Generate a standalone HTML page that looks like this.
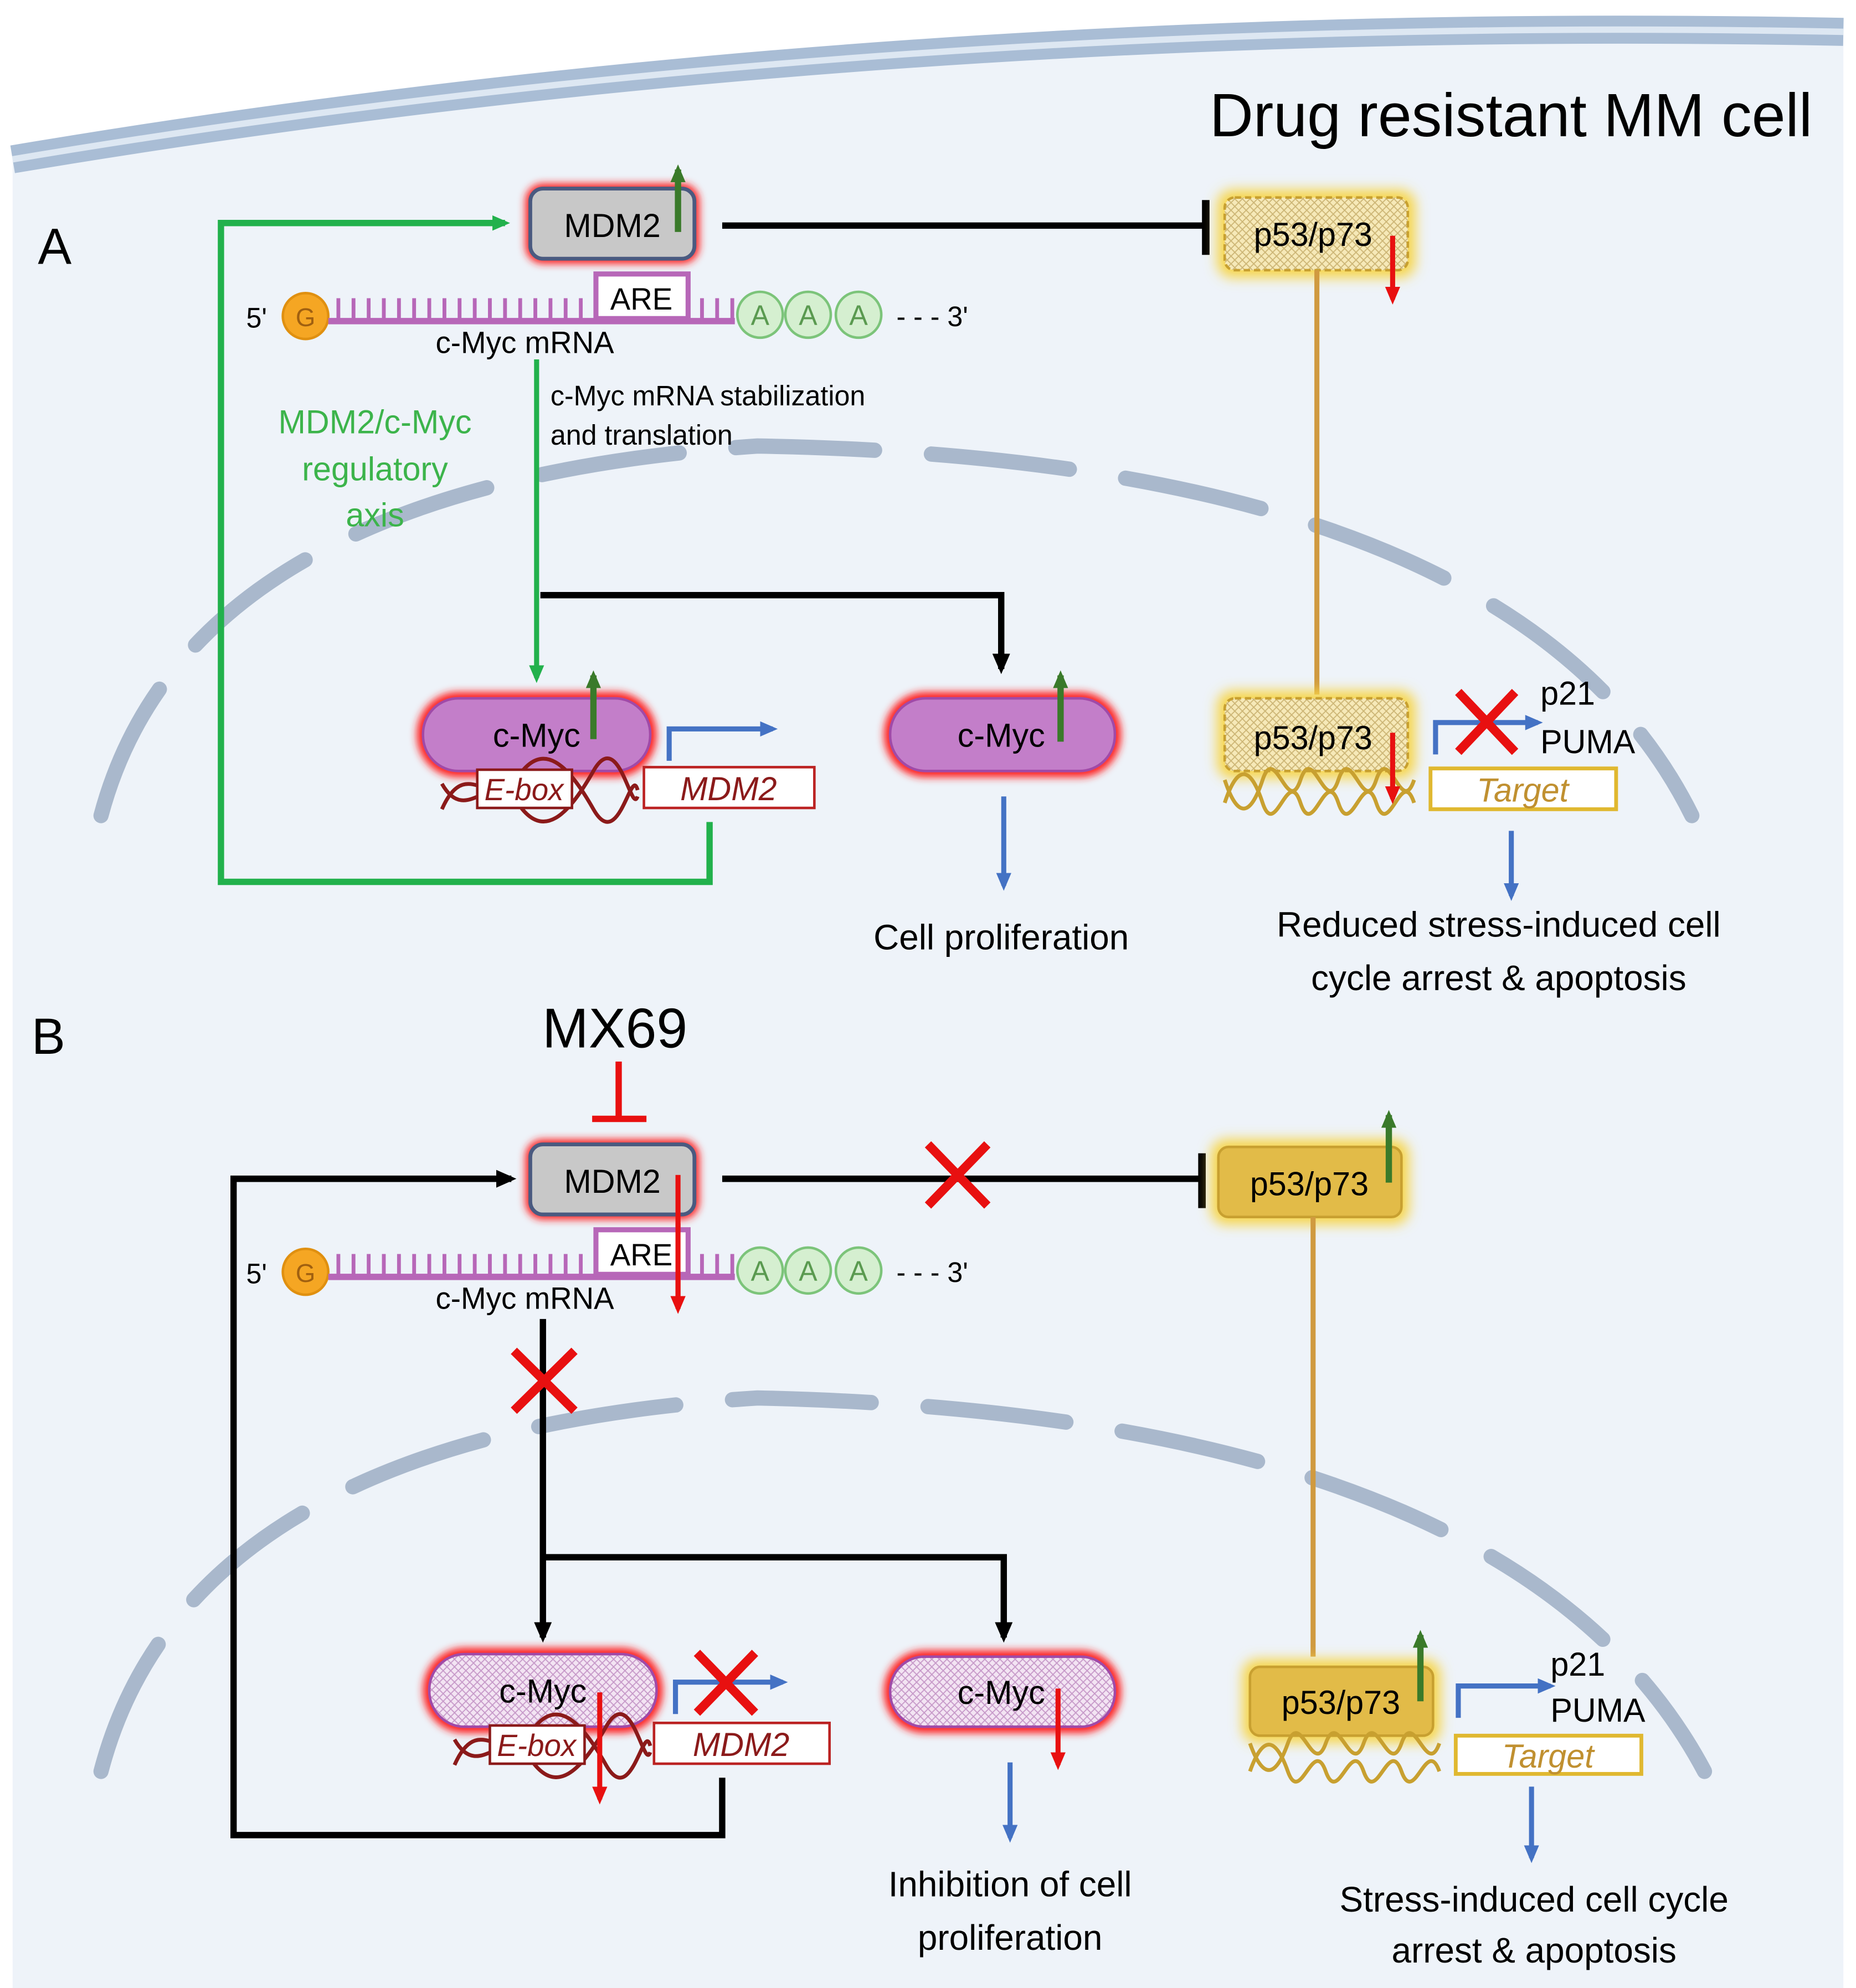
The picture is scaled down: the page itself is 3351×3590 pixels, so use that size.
<!DOCTYPE html>
<html><head><meta charset="utf-8">
<style>
html,body{margin:0;padding:0;background:#fff;}
svg{display:block;}
text{font-family:"Liberation Sans",sans-serif;}
</style></head>
<body>
<svg width="3351" height="3590" viewBox="0 0 1470 1560" preserveAspectRatio="none" xmlns="http://www.w3.org/2000/svg">
<defs>
<filter id="rg" x="-30%" y="-40%" width="160%" height="180%"><feGaussianBlur stdDeviation="3"/></filter>
<filter id="yg" x="-30%" y="-40%" width="160%" height="180%"><feGaussianBlur stdDeviation="5"/></filter>
<pattern id="hy" width="6" height="6" patternUnits="userSpaceOnUse"><rect width="6" height="6" fill="#f6e9b8"/><path d="M0,0L6,6M6,0L0,6" stroke="#cdb676" stroke-width="0.8"/></pattern>
<pattern id="hp" width="6" height="6" patternUnits="userSpaceOnUse"><rect width="6" height="6" fill="#f3e4f3"/><path d="M0,0L6,6M6,0L0,6" stroke="#c79ac9" stroke-width="0.8"/></pattern>
<marker id="ag" markerWidth="14" markerHeight="12" refX="10" refY="6" orient="auto" markerUnits="userSpaceOnUse"><path d="M0,0L14,6L0,12z" fill="#22b14c"/></marker>
<marker id="ab" markerWidth="14" markerHeight="12" refX="10" refY="6" orient="auto" markerUnits="userSpaceOnUse"><path d="M0,0L14,6L0,12z" fill="#4472c4"/></marker>
<marker id="ar" markerWidth="14" markerHeight="12" refX="10" refY="6" orient="auto" markerUnits="userSpaceOnUse"><path d="M0,0L14,6L0,12z" fill="#e81010"/></marker>
<marker id="agr" markerWidth="14" markerHeight="12" refX="10" refY="6" orient="auto" markerUnits="userSpaceOnUse"><path d="M0,0L14,6L0,12z" fill="#3a7a2a"/></marker>
<marker id="akb" markerWidth="16" markerHeight="14" refX="12" refY="7" orient="auto" markerUnits="userSpaceOnUse"><path d="M0,0L16,7L0,14z" fill="#000"/></marker>
</defs>

<path d="M10,125 Q700,10 1460,25 L1460,1560 L10,1560 Z" fill="#eef3f9"/>
<path d="M10,125 Q700,10 1460,25" fill="none" stroke="#a9bdd5" stroke-width="22"/>
<path d="M10,125 Q700,10 1460,25" fill="none" stroke="#dde7f2" stroke-width="5"/>

<path d="M80,640 Q150,380 600,350 Q1200,360 1340,640" fill="none" stroke="#a9b8cc" stroke-width="12" stroke-linecap="round" stroke-dasharray="110 45"/>
<path d="M80,1390 Q150,1125 600,1097 Q1200,1110 1350,1390" fill="none" stroke="#a9b8cc" stroke-width="12" stroke-linecap="round" stroke-dasharray="110 45"/>

<text x="958" y="107" font-size="48">Drug resistant MM cell</text>
<text x="30" y="207" font-size="40">A</text>
<text x="25" y="827" font-size="40">B</text>

<path d="M562,645 V692 H175 V175 H400" fill="none" stroke="#22b14c" stroke-width="5" marker-end="url(#ag)"/>
<text font-size="26" fill="#3cb44b" text-anchor="middle"><tspan x="297" y="340">MDM2/c-Myc</tspan><tspan x="297" y="377">regulatory</tspan><tspan x="297" y="413">axis</tspan></text>

<rect x="416" y="144" width="138" height="63" rx="14" fill="#f22" filter="url(#rg)"/>
<rect x="420" y="148" width="130" height="55" rx="10" fill="#c8c8c8" stroke="#4a5a80" stroke-width="3"/>
<text x="485" y="186" font-size="26" text-anchor="middle">MDM2</text>
<line x1="537" y1="182" x2="537" y2="133" stroke="#3a7a2a" stroke-width="5" marker-end="url(#agr)"/>
<line x1="572" y1="177" x2="955" y2="177" stroke="#000" stroke-width="5"/>
<line x1="955" y1="157" x2="955" y2="200" stroke="#000" stroke-width="6"/>

<rect x="964" y="149" width="157" height="69" rx="12" fill="#f7d54a" filter="url(#yg)"/>
<rect x="970" y="155" width="145" height="57" rx="8" fill="url(#hy)" stroke="#c8a030" stroke-width="2" stroke-dasharray="5 3"/>
<text x="1040" y="193" font-size="26" text-anchor="middle">p53/p73</text>
<line x1="1103" y1="185" x2="1103" y2="235" stroke="#e81010" stroke-width="4" marker-end="url(#ar)"/>
<line x1="1043" y1="212" x2="1043" y2="545" stroke="#d09a40" stroke-width="4"/>

<text x="195" y="257" font-size="22">5'</text>
<circle cx="242" cy="248" r="18" fill="#f5a623" stroke="#e09010" stroke-width="2"/>
<text x="242" y="256" font-size="20" text-anchor="middle" fill="#a06010">G</text>
<line x1="260" y1="252" x2="582" y2="252" stroke="#b767b8" stroke-width="5"/>
<path d="M268,252V234M280,252V234M292,252V234M304,252V234M316,252V234M328,252V234M340,252V234M352,252V234M364,252V234M376,252V234M388,252V234M400,252V234M412,252V234M424,252V234M436,252V234M448,252V234M460,252V234M556,252V234M568,252V234M580,252V234" stroke="#b767b8" stroke-width="3"/>
<rect x="472" y="215" width="73" height="35" fill="#fff" stroke="#b767b8" stroke-width="4"/>
<text x="508" y="243" font-size="24" text-anchor="middle">ARE</text>
<g fill="#d5efd0" stroke="#7cc47a" stroke-width="2"><circle cx="602" cy="247" r="18"/><circle cx="640" cy="247" r="18"/><circle cx="680" cy="247" r="18"/></g>
<g font-size="22" fill="#5a9a50" text-anchor="middle"><text x="602" y="255">A</text><text x="640" y="255">A</text><text x="680" y="255">A</text></g>
<text x="710" y="256" font-size="22">- - - 3'</text>
<text x="345" y="277" font-size="24">c-Myc mRNA</text>

<line x1="425" y1="282" x2="425" y2="532" stroke="#22b14c" stroke-width="4" marker-end="url(#ag)"/>
<text font-size="22"><tspan x="436" y="318">c-Myc mRNA stabilization</tspan><tspan x="436" y="349">and translation</tspan></text>
<path d="M428,467 H793 V525" fill="none" stroke="#000" stroke-width="5" marker-end="url(#akb)"/>

<rect x="330" y="543" width="190" height="67" rx="33" fill="#f22" filter="url(#rg)"/>
<rect x="335" y="548" width="180" height="57" rx="28" fill="#c37ec9" stroke="#a04aa8" stroke-width="2"/>
<text x="425" y="586" font-size="26" text-anchor="middle">c-Myc</text>
<line x1="470" y1="580" x2="470" y2="530" stroke="#3a7a2a" stroke-width="5" marker-end="url(#agr)"/>
<path d="M350,635 C370,590 390,640 410,610 S450,600 470,635 S500,600 505,620" fill="none" stroke="#8b1a1a" stroke-width="3"/>
<path d="M350,615 C370,650 390,600 410,630 S450,640 470,605 S500,640 505,625" fill="none" stroke="#8b1a1a" stroke-width="3"/>
<rect x="378" y="604" width="75" height="30" fill="#fff" stroke="#8b1a1a" stroke-width="2"/>
<text x="415" y="628" font-size="24" font-style="italic" fill="#8b1a1a" text-anchor="middle">E-box</text>
<rect x="510" y="602" width="135" height="32" fill="#fff" stroke="#b22" stroke-width="2"/>
<text x="577" y="628" font-size="26" font-style="italic" fill="#8b1a1a" text-anchor="middle">MDM2</text>
<path d="M530,597 V572 H612" fill="none" stroke="#4472c4" stroke-width="4" marker-end="url(#ab)"/>

<rect x="700" y="543" width="188" height="67" rx="33" fill="#f22" filter="url(#rg)"/>
<rect x="705" y="548" width="178" height="57" rx="28" fill="#c37ec9" stroke="#a04aa8" stroke-width="2"/>
<text x="793" y="586" font-size="26" text-anchor="middle">c-Myc</text>
<line x1="840" y1="582" x2="840" y2="530" stroke="#3a7a2a" stroke-width="5" marker-end="url(#agr)"/>
<line x1="795" y1="625" x2="795" y2="695" stroke="#4472c4" stroke-width="4" marker-end="url(#ab)"/>
<text x="793" y="745" font-size="28" text-anchor="middle">Cell proliferation</text>

<rect x="964" y="542" width="157" height="69" rx="12" fill="#f7d54a" filter="url(#yg)"/>
<rect x="970" y="548" width="145" height="57" rx="8" fill="url(#hy)" stroke="#c8a030" stroke-width="2" stroke-dasharray="5 3"/>
<text x="1040" y="588" font-size="26" text-anchor="middle">p53/p73</text>
<path d="M970,630 c10,-30 20,-30 30,0 s20,-30 30,0 s20,-30 30,0 s20,-30 30,0 s20,-30 30,0" fill="none" stroke="#c8a030" stroke-width="3"/>
<path d="M970,612 c10,30 20,30 30,0 s20,30 30,0 s20,30 30,0 s20,30 30,0 s20,30 30,0" fill="none" stroke="#c8a030" stroke-width="3"/>
<line x1="1103" y1="575" x2="1103" y2="627" stroke="#e81010" stroke-width="4" marker-end="url(#ar)"/>
<rect x="1133" y="603" width="147" height="32" fill="#fff" stroke="#e0b830" stroke-width="3"/>
<text x="1206" y="629" font-size="26" font-style="italic" fill="#c09030" text-anchor="middle">Target</text>
<path d="M1137,592 V567 H1218" fill="none" stroke="#4472c4" stroke-width="4" marker-end="url(#ab)"/>
<path d="M1155,543 L1200,590 M1200,543 L1155,590" stroke="#e81010" stroke-width="7"/>
<text x="1220" y="553" font-size="26">p21</text>
<text x="1220" y="591" font-size="26">PUMA</text>
<line x1="1197" y1="652" x2="1197" y2="703" stroke="#4472c4" stroke-width="4" marker-end="url(#ab)"/>
<text font-size="28" text-anchor="middle"><tspan x="1187" y="735">Reduced stress-induced cell</tspan><tspan x="1187" y="777">cycle arrest &amp; apoptosis</tspan></text>

<text x="487" y="822" font-size="44" text-anchor="middle">MX69</text>
<line x1="490" y1="833" x2="490" y2="878" stroke="#e81010" stroke-width="5"/>
<line x1="469" y1="878" x2="512" y2="878" stroke="#e81010" stroke-width="5"/>

<path d="M572,1395 V1440 H185 V925 H405" fill="none" stroke="#000" stroke-width="5" marker-end="url(#akb)"/>

<rect x="416" y="894" width="138" height="63" rx="14" fill="#f22" filter="url(#rg)"/>
<rect x="420" y="898" width="130" height="55" rx="10" fill="#c8c8c8" stroke="#4a5a80" stroke-width="3"/>
<text x="485" y="936" font-size="26" text-anchor="middle">MDM2</text>
<line x1="537" y1="922" x2="537" y2="1027" stroke="#e81010" stroke-width="4" marker-end="url(#ar)"/>
<line x1="572" y1="925" x2="952" y2="925" stroke="#000" stroke-width="5"/>
<line x1="952" y1="905" x2="952" y2="948" stroke="#000" stroke-width="6"/>
<path d="M735,898 L782,946 M782,898 L735,946" stroke="#e81010" stroke-width="7"/>

<rect x="959" y="894" width="157" height="67" rx="12" fill="#f7d54a" filter="url(#yg)"/>
<rect x="965" y="900" width="145" height="55" rx="8" fill="#e2bb48" stroke="#c8a030" stroke-width="2"/>
<text x="1037" y="938" font-size="26" text-anchor="middle">p53/p73</text>
<line x1="1100" y1="928" x2="1100" y2="875" stroke="#3a7a2a" stroke-width="5" marker-end="url(#agr)"/>
<line x1="1040" y1="955" x2="1040" y2="1300" stroke="#d09a40" stroke-width="4"/>

<text x="195" y="1007" font-size="22">5'</text>
<circle cx="242" cy="998" r="18" fill="#f5a623" stroke="#e09010" stroke-width="2"/>
<text x="242" y="1006" font-size="20" text-anchor="middle" fill="#a06010">G</text>
<line x1="260" y1="1002" x2="582" y2="1002" stroke="#b767b8" stroke-width="5"/>
<path d="M268,1002V984M280,1002V984M292,1002V984M304,1002V984M316,1002V984M328,1002V984M340,1002V984M352,1002V984M364,1002V984M376,1002V984M388,1002V984M400,1002V984M412,1002V984M424,1002V984M436,1002V984M448,1002V984M460,1002V984M556,1002V984M568,1002V984M580,1002V984" stroke="#b767b8" stroke-width="3"/>
<rect x="472" y="965" width="73" height="35" fill="#fff" stroke="#b767b8" stroke-width="4"/>
<text x="508" y="993" font-size="24" text-anchor="middle">ARE</text>
<g fill="#d5efd0" stroke="#7cc47a" stroke-width="2"><circle cx="602" cy="997" r="18"/><circle cx="640" cy="997" r="18"/><circle cx="680" cy="997" r="18"/></g>
<g font-size="22" fill="#5a9a50" text-anchor="middle"><text x="602" y="1005">A</text><text x="640" y="1005">A</text><text x="680" y="1005">A</text></g>
<text x="710" y="1006" font-size="22">- - - 3'</text>
<text x="345" y="1027" font-size="24">c-Myc mRNA</text>
<line x1="537" y1="960" x2="537" y2="1027" stroke="#e81010" stroke-width="4" marker-end="url(#ar)"/>

<line x1="430" y1="1035" x2="430" y2="1285" stroke="#000" stroke-width="5" marker-end="url(#akb)"/>
<path d="M430,1222 H795 V1285" fill="none" stroke="#000" stroke-width="5" marker-end="url(#akb)"/>
<path d="M407,1060 L455,1107 M455,1060 L407,1107" stroke="#e81010" stroke-width="7"/>

<rect x="335" y="1293" width="190" height="67" rx="33" fill="#f22" filter="url(#rg)"/>
<rect x="340" y="1298" width="180" height="57" rx="28" fill="url(#hp)" stroke="#a04aa8" stroke-width="2"/>
<text x="430" y="1336" font-size="26" text-anchor="middle">c-Myc</text>
<path d="M360,1385 C380,1340 400,1390 420,1360 S460,1350 480,1385 S510,1350 515,1370" fill="none" stroke="#8b1a1a" stroke-width="3"/>
<path d="M360,1365 C380,1400 400,1350 420,1380 S460,1390 480,1355 S510,1390 515,1375" fill="none" stroke="#8b1a1a" stroke-width="3"/>
<rect x="388" y="1354" width="75" height="30" fill="#fff" stroke="#8b1a1a" stroke-width="2"/>
<text x="425" y="1378" font-size="24" font-style="italic" fill="#8b1a1a" text-anchor="middle">E-box</text>
<rect x="518" y="1352" width="139" height="32" fill="#fff" stroke="#b22" stroke-width="2"/>
<text x="587" y="1378" font-size="26" font-style="italic" fill="#8b1a1a" text-anchor="middle">MDM2</text>
<line x1="475" y1="1328" x2="475" y2="1412" stroke="#e81010" stroke-width="4" marker-end="url(#ar)"/>
<path d="M535,1345 V1320 H620" fill="none" stroke="#4472c4" stroke-width="4" marker-end="url(#ab)"/>
<path d="M552,1297 L598,1344 M598,1297 L552,1344" stroke="#e81010" stroke-width="7"/>

<rect x="700" y="1295" width="188" height="65" rx="32" fill="#f22" filter="url(#rg)"/>
<rect x="705" y="1300" width="178" height="55" rx="27" fill="url(#hp)" stroke="#a04aa8" stroke-width="2"/>
<text x="793" y="1337" font-size="26" text-anchor="middle">c-Myc</text>
<line x1="838" y1="1325" x2="838" y2="1385" stroke="#e81010" stroke-width="4" marker-end="url(#ar)"/>
<line x1="800" y1="1383" x2="800" y2="1442" stroke="#4472c4" stroke-width="4" marker-end="url(#ab)"/>
<text font-size="28" text-anchor="middle"><tspan x="800" y="1488">Inhibition of cell</tspan><tspan x="800" y="1530">proliferation</tspan></text>

<rect x="984" y="1302" width="157" height="66" rx="12" fill="#f7d54a" filter="url(#yg)"/>
<rect x="990" y="1308" width="145" height="54" rx="8" fill="#e2bb48" stroke="#c8a030" stroke-width="2"/>
<text x="1062" y="1345" font-size="26" text-anchor="middle">p53/p73</text>
<line x1="1125" y1="1335" x2="1125" y2="1283" stroke="#3a7a2a" stroke-width="5" marker-end="url(#agr)"/>
<path d="M990,1390 c10,-28 20,-28 30,0 s20,-28 30,0 s20,-28 30,0 s20,-28 30,0 s20,-28 30,0" fill="none" stroke="#c8a030" stroke-width="3"/>
<path d="M990,1368 c10,28 20,28 30,0 s20,28 30,0 s20,28 30,0 s20,28 30,0 s20,28 30,0" fill="none" stroke="#c8a030" stroke-width="3"/>
<rect x="1153" y="1362" width="147" height="30" fill="#fff" stroke="#e0b830" stroke-width="3"/>
<text x="1226" y="1387" font-size="26" font-style="italic" fill="#c09030" text-anchor="middle">Target</text>
<path d="M1155,1348 V1323 H1228" fill="none" stroke="#4472c4" stroke-width="4" marker-end="url(#ab)"/>
<text x="1228" y="1315" font-size="26">p21</text>
<text x="1228" y="1351" font-size="26">PUMA</text>
<line x1="1213" y1="1402" x2="1213" y2="1458" stroke="#4472c4" stroke-width="4" marker-end="url(#ab)"/>
<text font-size="28" text-anchor="middle"><tspan x="1215" y="1500">Stress-induced cell cycle</tspan><tspan x="1215" y="1540">arrest &amp; apoptosis</tspan></text>
</svg>
</body></html>
